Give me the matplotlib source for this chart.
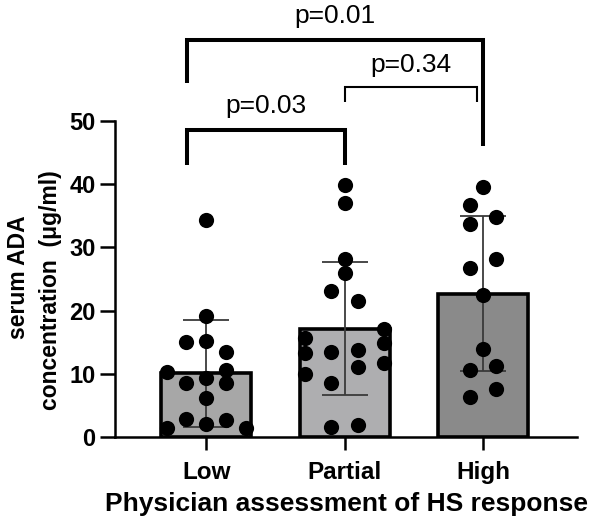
import numpy as np
import matplotlib
matplotlib.use("Agg")
import matplotlib.pyplot as plt

plt.rcParams['font.family'] = ['Liberation Sans', 'DejaVu Sans']

categories = ["Low", "Partial", "High"]
low_vals = [34.3, 19.1, 15.0, 15.2, 13.4, 10.3, 10.6, 8.5, 9.3, 8.5, 6.2, 2.8, 2.1, 2.7, 1.5, 1.5]
partial_vals = [39.9, 37.0, 28.2, 26.0, 23.1, 21.5, 17.1, 15.7, 14.9, 13.4, 13.8, 13.3, 11.1, 11.7, 10.0, 8.5, 1.6, 1.9]
high_vals = [39.6, 36.7, 34.8, 33.7, 28.2, 26.7, 22.5, 13.9, 10.6, 11.2, 7.6, 6.3]

# jitter slots (layout only)
low_slots = [0, 0, -3, 0, 3, -6, 3, -3, 0, 3, 0, -3, 0, 3, -6, 6]
partial_slots = [0, 0, 0, 0, -2, 2, 6, -6, 6, -2, 2, -6, 2, 6, -6, -2, -2, 2]
high_slots = [0, -2, 2, -2, 2, -2, 0, 0, -2, 2, 2, -2]

comparisons = [(0, 1, "p=0.03"), (1, 2, "p=0.34"), (0, 2, "p=0.01")]
ylabel_lines = ["serum ADA", "concentration  (μg/ml)"]

groups = [low_vals, partial_vals, high_vals]
slots = [low_slots, partial_slots, high_slots]
colors = ["#a7a7a7", "#aeaeb0", "#8a8a8a"]

W, H = 590, 525
fig = plt.figure(figsize=(W / 100, H / 100), dpi=100)
ax = fig.add_axes([0.195, 0.1676, 0.783, 0.602])

x = np.arange(len(categories))
means = [np.mean(g) for g in groups]
sds = [np.std(g, ddof=1) for g in groups]

ax.bar(x, means, width=0.65, color=colors, edgecolor="black", linewidth=2.6, zorder=1)
ax.errorbar(x, means, yerr=sds, fmt="none", ecolor="#3a3a3a", elinewidth=1.3,
            capsize=16.5, capthick=1.3, zorder=2)
u = 0.048
for i, (g, s) in enumerate(zip(groups, slots)):
    ax.scatter(i + np.array(s) * u, g, s=120, color="black", zorder=3, linewidths=0)

ax.set_xlim(-0.66, 2.68)
ax.set_ylim(0, 50)
ax.set_yticks([0, 10, 20, 30, 40, 50])
ax.set_xticks(x)
ax.set_xticklabels(categories, fontsize=17.5, fontweight="bold")
for lab in ax.get_yticklabels():
    lab.set_fontsize(17)
    lab.set_fontweight("bold")
ax.spines["top"].set_visible(False)
ax.spines["right"].set_visible(False)
ax.spines["left"].set_linewidth(1.8)
ax.spines["bottom"].set_linewidth(1.8)
ax.tick_params(axis="y", length=11, width=1.8, pad=3)
ax.tick_params(axis="x", length=9, width=1.8, pad=8)

# two-line y label, placed as in the reference
fig.text(19 / W, 1 - 277 / H, ylabel_lines[0], rotation=90, ha="center", va="center",
         fontsize=16.5, fontweight="bold")
fig.text(51 / W, 1 - 290 / H, ylabel_lines[1], rotation=90, ha="center", va="center",
         fontsize=16.5, fontweight="bold")

ax.set_xlabel("Physician assessment of HS response", fontsize=19, fontweight="bold",
              labelpad=6)

# significance brackets
# (x1, x2, bar y, left leg bottom, right leg bottom, text baseline y, lw)
br = {
    "p=0.03": (-0.14, 1.0, 48.6, 43.0, 43.0, 51.3, 2.9),
    "p=0.34": (1.0, 1.96, 55.4, 53.0, 53.0, 57.8, 1.5),
    "p=0.01": (-0.14, 2.0, 62.8, 56.0, 46.0, 65.5, 2.9),
}
for a, b, label in comparisons:
    x1, x2, yb, yl, yr, yt, lw = br[label]
    ax.plot([x1, x1, x2, x2], [yl, yb, yb, yr], color="black", lw=lw,
            clip_on=False, solid_joinstyle="miter", solid_capstyle="butt")
    ax.text((x1 + x2) / 2, yt, label, ha="center", va="baseline", fontsize=19,
            clip_on=False)

fig.savefig("out.png", dpi=100)
